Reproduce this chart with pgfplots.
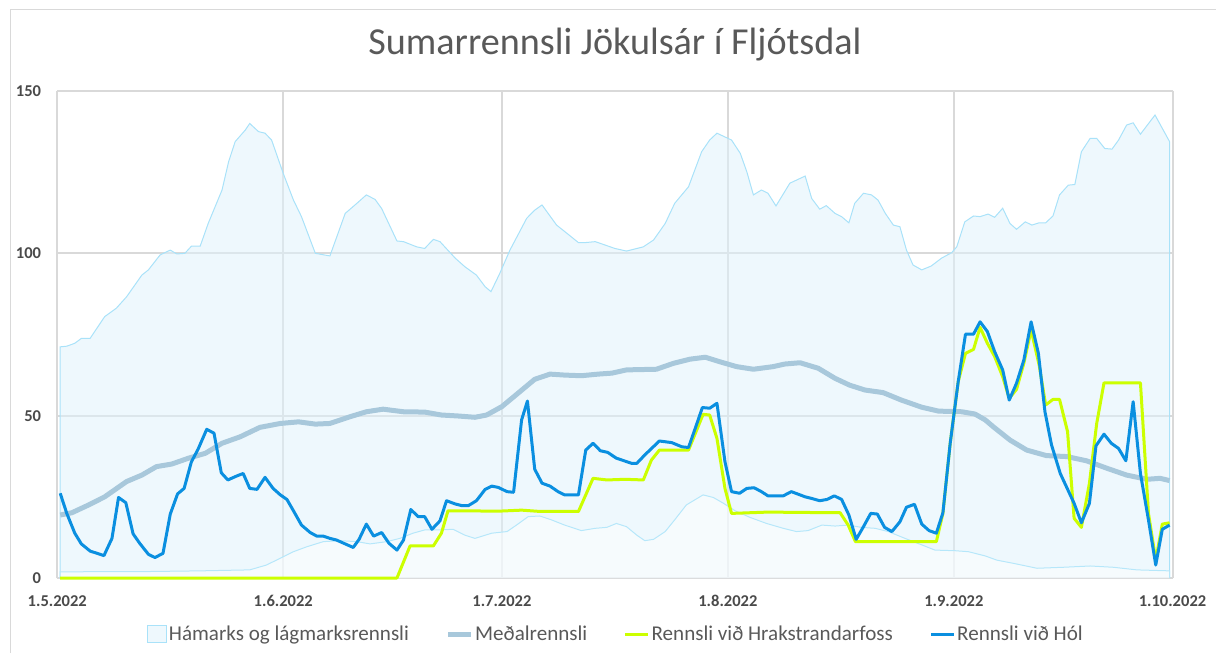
\documentclass[border=0pt]{standalone}
\usepackage{fontspec}
\setmainfont{Carlito}
\usepackage{pgfplots}
\pgfplotsset{compat=1.18}
\definecolor{gridc}{HTML}{D9D9D9}
\definecolor{areaf}{HTML}{E0F2FB}
\definecolor{areal}{HTML}{A9E2F9}
\definecolor{lowl}{HTML}{B6E7FA}
\definecolor{meanc}{HTML}{A8C8DB}
\definecolor{limec}{HTML}{CCFF00}
\definecolor{holc}{HTML}{0A8FE0}
\definecolor{txtc}{HTML}{595959}
\definecolor{tickc}{HTML}{4A4A4A}
\pgfplotsset{
  lineleg/.style={legend image code/.code={\draw[##1] (0pt,0pt) -- (17pt,0pt);}},
  arealeg/.style={legend image code/.code={\draw[draw=areal, fill=areaf, line width=0.75pt] (0pt,-6.5pt) rectangle (14pt,6.5pt);}},
}
\begin{document}
\begin{tikzpicture}
\path[use as bounding box] (0,0) rectangle (912pt,489.75pt);
\draw[gridc, line width=0.75pt] (7.5pt,0pt) -- (7.5pt,482.25pt) -- (912pt,482.25pt);
\node[anchor=base, text=txtc, font=\fontsize{28.6}{34}\selectfont] at (461.25pt,448.5pt) {Sumarrennsli Jökulsár í Fljótsdal};
\begin{axis}[
  at={(42.975pt,56.25pt)}, anchor=south west,
  scale only axis, width=836.4pt, height=365.25pt,
  xmin=0, xmax=153, ymin=0, ymax=150,
  xtick={0,31,61,92,123,153},
  xticklabels={1.5.2022,1.6.2022,1.7.2022,1.8.2022,1.9.2022,1.10.2022},
  ytick={0,50,100,150}, yticklabels={0,50,100,150},
  grid=major, major grid style={gridc, line width=1.5pt},
  axis line style={draw=none},
  major tick length=0pt, tick style={draw=none},
  xticklabel style={anchor=base, yshift=-21pt, font=\fontsize{12.4}{14}\selectfont\bfseries, text=tickc},
  yticklabel style={anchor=east, inner sep=0pt, xshift=-12pt, font=\fontsize{12.4}{14}\selectfont\bfseries, text=tickc},
  clip=false,
  legend columns=4,
  legend cell align=left,
  legend style={at={(0.501,-0.115)}, anchor=center, draw=none, fill=none,
    font=\fontsize{15.8}{18}\selectfont, text=txtc,
    nodes={inner xsep=1.5pt},
    /tikz/every even column/.append style={column sep=26pt}},
]
\addplot[draw=areal, line width=0.75pt, fill=areaf, fill opacity=0.55, arealeg]
table[x=d, y=v] {
d v
0.4 0
0.4 71.2
1.3 71.4
2.4 72.3
3.3 73.8
4.5 73.8
6.5 80.5
8.1 83.1
9.5 86.6
11.6 93.3
12.5 94.9
14.1 99.5
15.5 101
16.4 99.8
17.5 100
18.4 102.2
19.6 102.2
20.7 109.2
22.6 119.5
23.5 128.2
24.4 134.4
25.8 138
26.4 140
27.6 137.5
28.5 137
29.4 134.9
31.0 124.6
32.4 116.4
33.5 111.3
35.4 100
37.4 99.2
39.5 112.3
41.1 115.4
42.4 118
43.6 116.6
44.5 113.8
46.6 103.8
47.5 103.6
49.3 102
50.4 101.5
51.6 104.3
52.5 103.6
54.6 98.5
55.9 95.9
57.5 93.3
58.7 89.7
59.5 88.2
60.7 93.8
62.1 101
64.4 110.8
65.5 113.3
66.5 114.9
68.5 108.7
69.9 106.2
71.5 103.3
72.4 103.3
73.8 103.6
75.1 102.6
76.5 101.5
78.1 100.7
80.4 102
81.8 104.1
83.4 109.2
84.7 115.4
86.6 120.5
88.4 131.3
89.5 134.9
90.5 137
92.5 134.9
93.7 130.8
94.6 125.1
95.5 118
96.6 119.5
97.5 118.5
98.6 114.6
100.5 121.6
102.6 123.8
103.5 116.9
104.6 113.6
105.5 114.7
106.7 112.3
107.6 111.3
108.6 109.4
109.4 115.4
110.6 118.5
111.7 118
112.6 116.4
113.6 112.3
114.7 108.7
115.6 108.2
116.5 101
117.4 96.4
118.6 94.9
119.9 96.1
121.3 98.5
122.7 100.2
123.4 102
124.5 109.7
125.7 111.5
126.6 111.3
127.7 112.1
128.6 111.1
129.7 113.9
130.7 109.2
131.6 107.4
132.8 109.7
133.7 108.7
134.7 109.4
135.6 109.4
136.6 111.5
137.5 118
138.7 121
139.6 121.2
140.5 131.3
141.7 135.4
142.6 135.4
143.7 132.3
144.7 132.1
145.6 134.9
146.7 139.5
147.6 140.2
148.6 136.7
150.6 142.6
152.6 134.4
152.6 0
};
\addlegendentry{Hámarks og lágmarksrennsli}
\addplot[forget plot, draw=lowl, line width=0.75pt, fill=white, fill opacity=0.5]
table[x=d, y=v] {
d v
0.4 0
0.4 1.9
12.7 2.0
19.6 2.2
26.4 2.5
28.7 4
30.6 6.1
32.4 8.1
34.2 9.6
36.5 11.2
38.8 11.5
41.1 11.2
42.9 10.5
45.2 11.2
47.0 12.2
48.8 13.8
50.4 14.8
52.3 14.8
54.3 15
55.9 13.2
57.3 12.2
59.6 13.8
61.7 14.3
63.0 16.3
64.6 18.9
66.2 19.1
67.8 17.9
69.6 16.3
71.9 14.6
73.8 15.3
75.4 15.6
76.7 16.8
78.1 15.8
79.5 13.2
80.6 11.5
81.8 11.9
83.4 14.3
84.7 17.9
86.3 22.5
88.6 25.6
90.0 24.8
91.4 23
93.0 20.7
95.0 18.7
97.3 16.8
99.6 15.3
101.4 14.3
103.0 14.6
104.9 16.3
106.7 16
108.5 16.3
110.3 15.6
112.2 15.3
114.0 14.3
116.3 12.2
118.6 10.2
120.4 8.6
123.2 8.4
125.0 8.1
127.3 6.8
128.9 5.5
131.2 4.5
134.4 3
138.0 3.3
141.7 3.7
144.9 3.3
148.1 2.5
152.6 2.2
152.6 0
};
\addplot[meanc, line width=3.75pt, line join=round, lineleg]
table[x=d, y=v] {
d v
0.4 19.4
2.0 20.1
4.3 22.5
6.5 25
9.5 29.7
11.6 31.7
13.6 34.3
15.7 35.1
18.0 36.9
20.3 38.4
22.6 41.5
25.1 43.5
27.8 46.4
30.6 47.6
33.1 48.1
35.4 47.4
37.4 47.6
40.2 49.7
42.4 51.2
44.7 52
47.5 51.2
50.4 51.1
52.7 50.2
55.0 49.9
57.3 49.5
58.9 50.2
61.0 52.8
63.2 56.9
65.5 61.2
67.6 62.8
69.6 62.5
71.9 62.3
74.2 62.8
76.1 63.1
78.1 64.1
82.2 64.3
84.5 66.1
86.8 67.4
88.9 68
90.9 66.6
93.2 65.1
95.5 64.3
98.2 65.1
99.8 65.9
101.9 66.3
104.4 64.6
106.7 61.5
108.7 59.4
110.8 57.9
113.3 57.1
115.8 54.8
118.6 52.6
120.9 51.4
124.1 51.2
125.9 50.5
127.3 48.7
128.4 46.6
130.7 42.5
133.0 39.4
135.7 37.7
138.5 37.4
141.2 36.1
144.0 33.8
146.7 31.7
149.5 30.4
151.3 30.7
152.6 30
};
\addlegendentry{Meðalrennsli}
\addplot[limec, line width=2.25pt, line join=round, lineleg]
table[x=d, y=v] {
d v
0.4 0
46.6 0
48.4 9.9
51.6 9.9
52.7 13.8
53.6 20.7
60.7 20.6
63.7 20.9
66.2 20.5
71.5 20.5
73.5 30.7
75.4 30.2
77.9 30.4
80.4 30.2
81.5 36.3
82.6 39.4
86.6 39.4
88.6 50.4
89.5 50.2
90.5 43
91.6 27.6
92.5 19.9
97.5 20.3
101.9 20.2
107.4 20.1
108.5 16.3
109.5 11.2
120.6 11.2
121.5 19.9
122.5 41.5
123.6 60.5
124.6 69.2
125.7 70.4
126.6 77.2
127.6 72.3
128.6 68.2
129.7 62
130.6 55.3
131.6 58.1
132.6 66.1
133.6 76.4
134.7 65.6
135.6 53.3
136.6 55
137.5 55
138.6 45.1
139.5 18.4
140.5 15.6
141.6 29.2
142.6 47.6
143.6 60.1
148.6 60.1
149.7 19.9
150.7 5.5
151.6 16.6
152.6 17
};
\addlegendentry{Rennsli við Hrakstrandarfoss}
\addplot[holc, line width=2.25pt, line join=round, lineleg]
table[x=d, y=v] {
d v
0.4 26.1
1.3 19.9
2.4 13.8
3.3 10.5
4.5 8.3
6.4 6.9
7.5 12.2
8.4 24.8
9.4 23.2
10.4 13.6
11.3 10.7
12.5 7.3
13.4 6.3
14.5 7.6
15.5 19.7
16.5 25.9
17.4 27.6
18.4 35.8
19.3 39.6
20.5 45.8
21.5 44.6
22.5 32.4
23.4 30.2
24.6 31.4
25.5 32.2
26.4 27.6
27.4 27.3
28.5 31
29.6 27.6
30.6 25.6
31.5 24.2
32.4 20.7
33.5 16.3
34.7 14
35.6 12.9
36.5 12.9
37.4 12.2
38.3 11.7
39.5 10.5
40.6 9.4
41.4 11.9
42.4 16.6
43.4 12.9
44.5 14
45.5 10.7
46.6 8.6
47.5 11.7
48.5 21.1
49.5 18.9
50.4 18.9
51.4 15
52.5 17.6
53.4 23.8
54.6 22.8
55.5 22.3
56.4 22.3
57.5 23.8
58.7 27.3
59.6 28.3
60.5 27.9
61.7 26.6
62.6 26.4
63.7 48.7
64.5 54.5
65.5 33.5
66.5 29.2
67.6 28.3
68.7 26.6
69.6 25.6
71.5 25.6
72.5 39.4
73.5 41.5
74.5 39.2
75.5 38.7
76.7 36.9
77.9 36
78.8 35.3
79.5 35.3
80.6 37.9
82.6 42.2
84.3 41.7
85.7 40.4
86.6 40.2
87.6 46.6
88.5 52.5
89.5 52.3
90.5 53.8
91.6 35.8
92.5 26.6
93.6 26.1
94.6 27.6
95.6 27.8
96.6 26.6
97.5 25.3
99.6 25.3
100.7 26.6
101.9 25.6
102.6 25
103.5 24.5
104.6 23.8
105.6 24.2
106.6 25.3
107.6 24.2
108.6 19.4
109.6 11.9
110.6 15.8
111.6 19.9
112.5 19.7
113.5 15.6
114.5 14.3
115.6 17.3
116.5 21.8
117.6 22.7
118.6 16.6
119.6 14.6
120.6 13.8
121.5 20.1
122.5 41.5
123.6 60.5
124.6 75.1
125.7 75.1
126.6 78.9
127.6 75.9
128.6 69.7
129.7 64.1
130.6 54.8
131.6 60
132.6 67.1
133.6 78.9
134.6 69.2
135.5 51.2
136.4 41
137.6 32.2
139.5 23
140.5 17
141.6 23
142.5 40.7
143.6 44.3
144.6 41.5
145.6 39.9
146.6 36.1
147.6 54.3
148.6 32.2
149.7 17.9
150.7 4
151.6 15
152.6 16.3
};
\addlegendentry{Rennsli við Hól}
\end{axis}
\end{tikzpicture}
\end{document}
